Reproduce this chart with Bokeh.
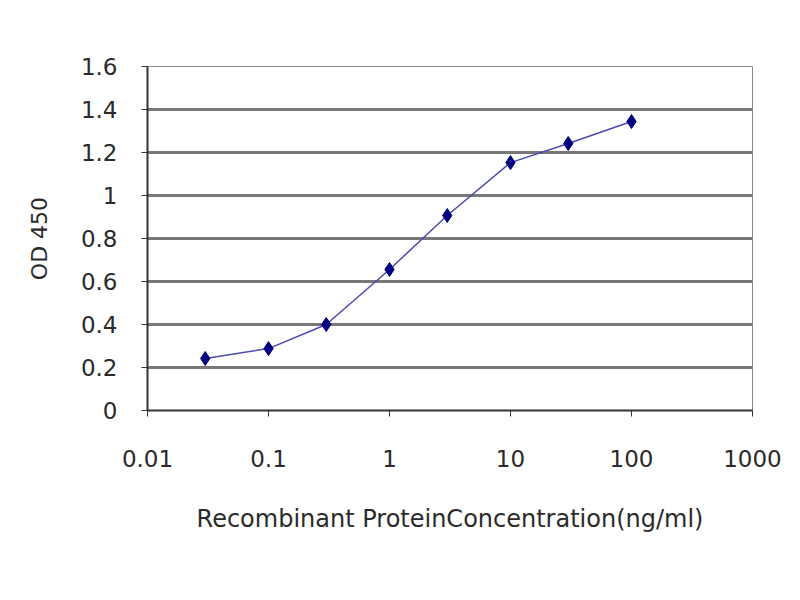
from bokeh.plotting import figure
from bokeh.models import FixedTicker, Range1d
from bokeh.embed import file_html
from bokeh.resources import INLINE

conc = [0.03, 0.1, 0.3, 1, 3, 10, 30, 100]
od450 = [0.242, 0.288, 0.40, 0.656, 0.907, 1.153, 1.242, 1.344]

x_ticks = [0.01, 0.1, 1, 10, 100, 1000]
x_tick_labels = ["0.01", "0.1", "1", "10", "100", "1000"]
y_ticks = [0, 0.2, 0.4, 0.6, 0.8, 1.0, 1.2, 1.4, 1.6]
y_tick_labels = ["0", "0.2", "0.4", "0.6", "0.8", "1", "1.2", "1.4", "1.6"]

FONT = "DejaVu Sans"

p = figure(width=784, height=584, x_axis_type="log",
           x_range=Range1d(0.01, 1000), y_range=Range1d(0, 1.6),
           output_backend="svg", toolbar_location=None,
           min_border_left=147, min_border_right=32,
           min_border_top=66, min_border_bottom=174)

p.background_fill_color = "white"
p.border_fill_color = "white"
p.outline_line_color = "#8a8a8a"
p.outline_line_width = 1

p.xgrid.visible = False
p.ygrid.ticker = FixedTicker(ticks=y_ticks)
p.ygrid.grid_line_color = "#787878"
p.ygrid.grid_line_width = 3

p.xaxis.ticker = FixedTicker(ticks=x_ticks)
p.xaxis.major_label_overrides = {t: l for t, l in zip(x_ticks, x_tick_labels)}
p.yaxis.ticker = FixedTicker(ticks=y_ticks)
p.yaxis.major_label_overrides = {t: l for t, l in zip(y_ticks, y_tick_labels)}

for ax in (p.xaxis, p.yaxis):
    ax.axis_line_color = "#333333"
    ax.axis_line_width = 2
    ax.major_tick_line_color = "#333333"
    ax.major_tick_out = 6
    ax.major_tick_in = 0
    ax.minor_tick_line_color = None
    ax.major_label_text_font = FONT
    ax.major_label_text_font_size = "23px"
    ax.major_label_text_color = "#2a2a2a"
    ax.axis_label_text_font = FONT
    ax.axis_label_text_font_style = "normal"
    ax.axis_label_text_color = "#2a2a2a"

p.xaxis.axis_label_text_font_size = "24px"
p.yaxis.axis_label_text_font_size = "22px"
p.xaxis.axis_label = "Recombinant ProteinConcentration(ng/ml)"
p.yaxis.axis_label = "OD 450"
p.xaxis.major_label_standoff = 33
p.xaxis.axis_label_standoff = 35
p.yaxis.major_label_standoff = 24
p.yaxis.axis_label_standoff = 26

p.line(conc, od450, line_color="#4a4ab0", line_width=1.5)
p.scatter(conc, od450, marker="diamond", size=14, fill_color="#000080",
          line_color="#000080")

open("out.html", "w").write(file_html(p, INLINE))
